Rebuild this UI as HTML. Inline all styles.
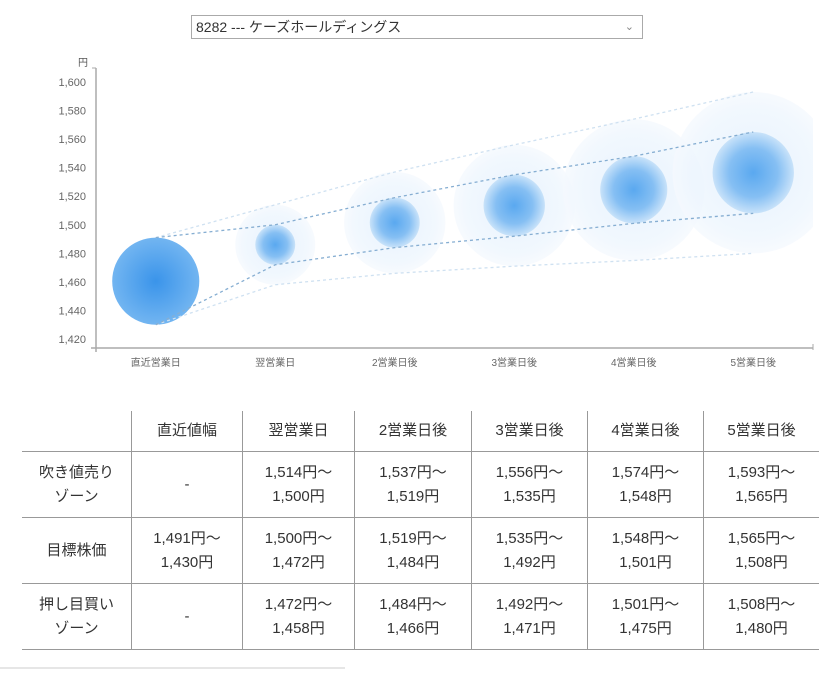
<!DOCTYPE html>
<html><head><meta charset="utf-8">
<style>
body{margin:0;width:840px;height:675px;background:#fff;font-family:"Liberation Sans","Noto Sans CJK JP",sans-serif;position:relative;overflow:hidden}
.sel{position:absolute;left:191px;top:15px;width:452px;height:24px;border:1px solid #aaa;box-sizing:border-box;font-size:14px;color:#333;line-height:22px;padding-left:4px}
.sel span{position:absolute;right:8px;top:0;color:#888;font-size:11px}
svg{position:absolute;left:0;top:0}
table{position:absolute;left:22px;top:411px;border-collapse:collapse;font-size:15px;color:#333}
td,th{font-weight:normal;text-align:center;border:1px solid #999;padding:0;line-height:24px}
th{border-top:none;height:40px}
tr>*:first-child{border-left:none}
tr>*:last-child{border-right:none}
td{height:65px}
.foot{position:absolute;left:0;top:667px;width:345px;height:2px;background:#e6e6e6}
</style></head><body>
<div class="sel">8282 --- ケーズホールディングス<span>⌄</span></div>
<svg id="chart" width="840" height="400">
<defs>
<radialGradient id="gIn"><stop offset="0" stop-color="#4aa0ee"/><stop offset="0.6" stop-color="#7ab9f2"/><stop offset="1" stop-color="#c4e0f9"/></radialGradient>
<radialGradient id="gOut"><stop offset="0" stop-color="#e2f0fc"/><stop offset="0.8" stop-color="#eef6fe"/><stop offset="1" stop-color="#f5f9fe"/></radialGradient>
<radialGradient id="g0"><stop offset="0" stop-color="#3a94ea"/><stop offset="1" stop-color="#72b5f1"/></radialGradient>
<clipPath id="plot"><rect x="96" y="60" width="717" height="288"/></clipPath>
</defs>
<g id="bub" clip-path="url(#plot)"></g>
</svg>
<table>
<tr><th style="width:109px"></th><th style="width:110px">直近値幅</th><th style="width:111px">翌営業日</th><th style="width:116px">2営業日後</th><th style="width:115px">3営業日後</th><th style="width:115px">4営業日後</th><th style="width:115px">5営業日後</th></tr>
<tr><td>吹き値売り<br>ゾーン</td><td>-</td><td>1,514円〜<br>1,500円</td><td>1,537円〜<br>1,519円</td><td>1,556円〜<br>1,535円</td><td>1,574円〜<br>1,548円</td><td>1,593円〜<br>1,565円</td></tr>
<tr><td>目標株価</td><td>1,491円〜<br>1,430円</td><td>1,500円〜<br>1,472円</td><td>1,519円〜<br>1,484円</td><td>1,535円〜<br>1,492円</td><td>1,548円〜<br>1,501円</td><td>1,565円〜<br>1,508円</td></tr>
<tr><td>押し目買い<br>ゾーン</td><td>-</td><td>1,472円〜<br>1,458円</td><td>1,484円〜<br>1,466円</td><td>1,492円〜<br>1,471円</td><td>1,501円〜<br>1,475円</td><td>1,508円〜<br>1,480円</td></tr>
</table>
<div class="foot"></div>
<script>
const categories=["直近営業日","翌営業日","2営業日後","3営業日後","4営業日後","5営業日後"];
const sellHigh=[1491,1514,1537,1556,1574,1593];
const targetHigh=[1491,1500,1519,1535,1548,1565];
const targetLow=[1430,1472,1484,1492,1501,1508];
const buyLow=[1430,1458,1466,1471,1475,1480];
const yTicks=[1420,1440,1460,1480,1500,1520,1540,1560,1580,1600];
const NS="http://www.w3.org/2000/svg";
const svg=document.getElementById('chart');
const bub=document.getElementById('bub');
const X0=96,X1=813,Y0=339,PX=257/180;
const y=v=>Y0-(v-1420)*PX;
const x=i=>X0+(i+0.5)*(X1-X0)/categories.length;
function mk(t,a,p){const e=document.createElementNS(NS,t);for(const k in a)e.setAttribute(k,a[k]);(p||svg).appendChild(e);return e;}
let e;
e=mk('line',{x1:X0,y1:68,x2:X0,y2:352,stroke:'#aaa','stroke-width':1.5});

e=mk('line',{x1:X0-5,y1:348,x2:X1,y2:348,stroke:'#aaa','stroke-width':1.5});

mk('line',{x1:X0-4,y1:68,x2:X0,y2:68,stroke:'#aaa'});
mk('line',{x1:X1,y1:344,x2:X1,y2:350,stroke:'#aaa'});
e=mk('text',{x:88,y:66,'font-size':10,fill:'#555','text-anchor':'end'});e.textContent='円';

yTicks.forEach(v=>{const t=mk('text',{x:86,y:y(v)+4,'font-size':11,fill:'#666','text-anchor':'end'});t.textContent=v.toLocaleString('en-US');
});
categories.forEach((c,i)=>{const t=mk('text',{x:x(i),y:366,'font-size':10,fill:'#666','text-anchor':'middle'});t.textContent=c;
});
categories.forEach((c,i)=>{
 if(i>0){const cy=y((sellHigh[i]+buyLow[i])/2),r=(sellHigh[i]-buyLow[i])/2*PX;
  const o=mk('circle',{cx:x(i),cy:cy,r:r,fill:'url(#gOut)',opacity:0.8},bub);
  }
 const cy=y((targetHigh[i]+targetLow[i])/2),r=(targetHigh[i]-targetLow[i])/2*PX;
 const b=mk('circle',{cx:x(i),cy:cy,r:r,fill:i?'url(#gIn)':'url(#g0)',opacity:i?0.9:1},bub);
 
});
function line(arr,col,name){const d=arr.map((v,i)=>(i?'L':'M')+x(i)+','+y(v)).join(' ');
 const p=mk('path',{d:d,fill:'none',stroke:col,'stroke-width':1.3,'stroke-dasharray':'3,3'});
 }
line(sellHigh,'#cfe1f1','sell-zone-upper-line');
line(buyLow,'#cfe1f1','buy-zone-lower-line');
line(targetHigh,'#86aed2','target-upper-line');
line(targetLow,'#86aed2','target-lower-line');
</script>
</body></html>
